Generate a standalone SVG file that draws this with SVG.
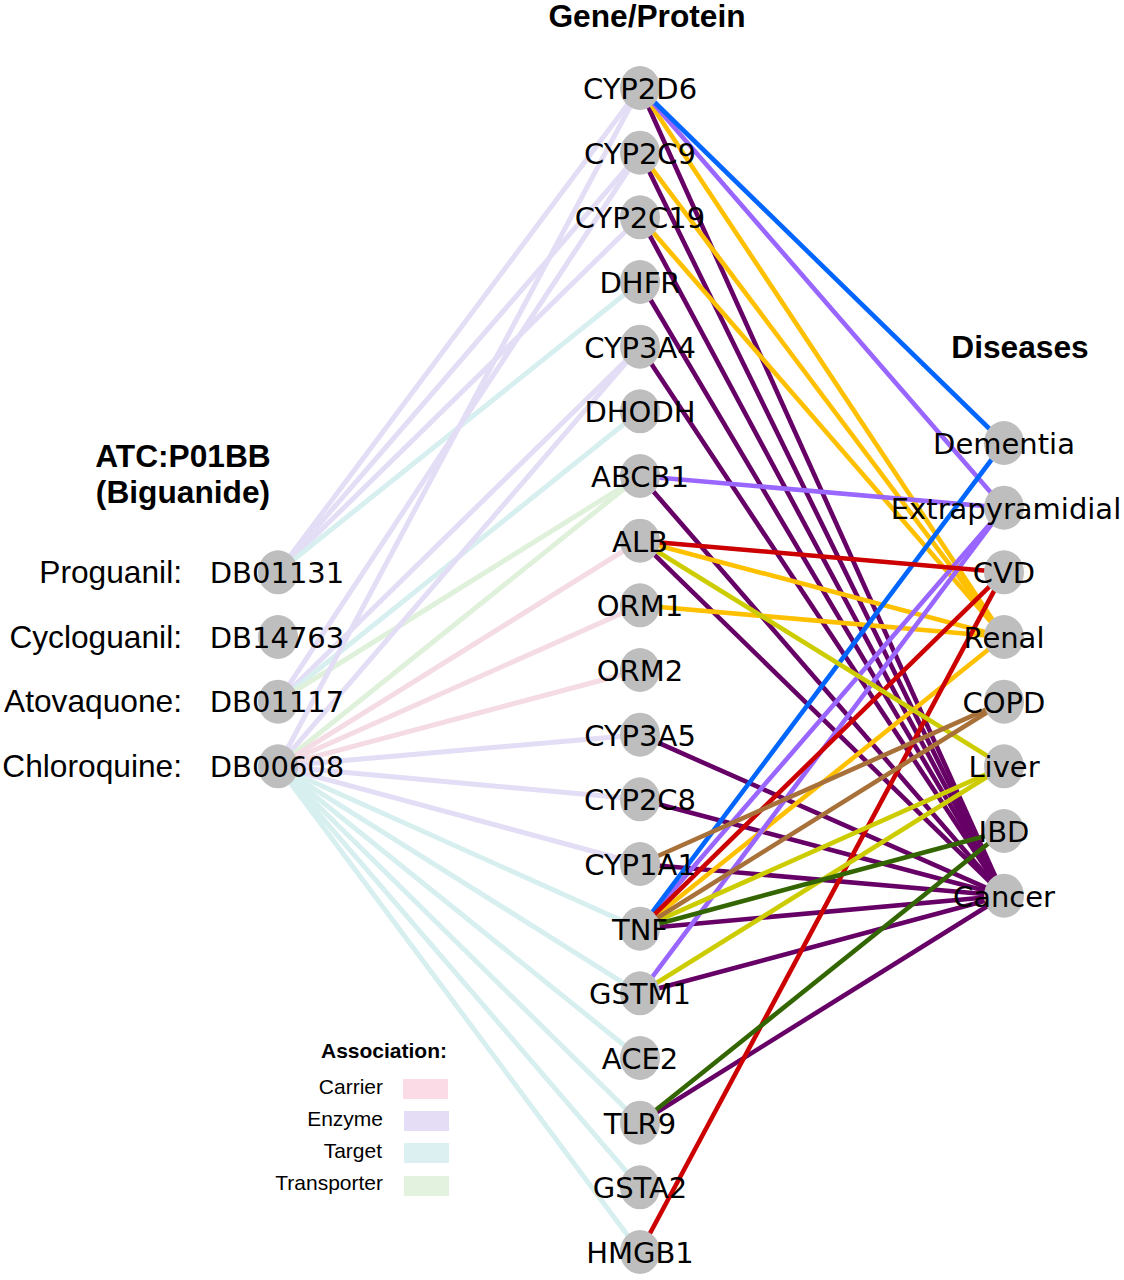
<svg xmlns="http://www.w3.org/2000/svg" width="1124" height="1280" viewBox="0 0 1124 1280">
<style>
.bg{fill:#ffffff}
.n{fill:#bebebe}
.lbl{font-family:"DejaVu Sans",sans-serif;font-size:29px;fill:#000;text-anchor:middle}
.drg{font-family:"Liberation Sans",Arial,sans-serif;font-size:31.7px;fill:#000;text-anchor:end}
.ttl{font-family:"Liberation Sans",Arial,sans-serif;font-size:31.7px;font-weight:bold;fill:#000;text-anchor:middle}
.lg{font-family:"Liberation Sans",Arial,sans-serif;font-size:21px;fill:#000;text-anchor:end}
.lgb{font-family:"Liberation Sans",Arial,sans-serif;font-size:21px;font-weight:bold;fill:#000;text-anchor:end}
.L{stroke-width:5;fill:none}
.R{stroke-width:4.6;fill:none}
.car{stroke:#f4dbe4}
.enz{stroke:#e3ddf5}
.tar{stroke:#d8eff0}
.tra{stroke:#e0f1db}
.dem{stroke:#0066ff}
.ext{stroke:#9966ff}
.cvd{stroke:#cc0000}
.ren{stroke:#ffc000}
.cop{stroke:#a8713a}
.liv{stroke:#cccc00}
.ibd{stroke:#336600}
.can{stroke:#660066}
</style>
<rect class="bg" x="0" y="0" width="1124" height="1280"/>
<g id="connectors">
<line class="L enz" x1="278" y1="572.3" x2="640" y2="88"/>
<line class="L enz" x1="278" y1="572.3" x2="640" y2="152.7"/>
<line class="L enz" x1="278" y1="572.3" x2="640" y2="217.3"/>
<line class="L tar" x1="278" y1="572.3" x2="640" y2="282"/>
<line class="L enz" x1="278" y1="701.7" x2="640" y2="152.7"/>
<line class="L enz" x1="278" y1="701.7" x2="640" y2="346.7"/>
<line class="L tar" x1="278" y1="701.7" x2="640" y2="411.3"/>
<line class="L tra" x1="278" y1="701.7" x2="640" y2="476"/>
<line class="L enz" x1="278" y1="766.3" x2="640" y2="88"/>
<line class="L enz" x1="278" y1="766.3" x2="640" y2="346.7"/>
<line class="L tra" x1="278" y1="766.3" x2="640" y2="476"/>
<line class="L car" x1="278" y1="766.3" x2="640" y2="540.7"/>
<line class="L car" x1="278" y1="766.3" x2="640" y2="605.3"/>
<line class="L car" x1="278" y1="766.3" x2="640" y2="670"/>
<line class="L enz" x1="278" y1="766.3" x2="640" y2="734.7"/>
<line class="L enz" x1="278" y1="766.3" x2="640" y2="799.3"/>
<line class="L enz" x1="278" y1="766.3" x2="640" y2="864"/>
<line class="L tar" x1="278" y1="766.3" x2="640" y2="928.7"/>
<line class="L tar" x1="278" y1="766.3" x2="640" y2="993.3"/>
<line class="L tar" x1="278" y1="766.3" x2="640" y2="1058"/>
<line class="L tar" x1="278" y1="766.3" x2="640" y2="1122.7"/>
<line class="L tar" x1="278" y1="766.3" x2="640" y2="1187.3"/>
<line class="L tar" x1="278" y1="766.3" x2="640" y2="1252"/>
<line class="R can" x1="640" y1="88" x2="1004" y2="895.7"/>
<line class="R can" x1="640" y1="152.7" x2="1004" y2="895.7"/>
<line class="R can" x1="640" y1="217.3" x2="1004" y2="895.7"/>
<line class="R can" x1="640" y1="282" x2="1004" y2="895.7"/>
<line class="R can" x1="640" y1="346.7" x2="1004" y2="895.7"/>
<line class="R can" x1="640" y1="476" x2="1004" y2="895.7"/>
<line class="R can" x1="640" y1="540.7" x2="1004" y2="895.7"/>
<line class="R can" x1="640" y1="734.7" x2="1004" y2="895.7"/>
<line class="R can" x1="640" y1="799.3" x2="1004" y2="895.7"/>
<line class="R can" x1="640" y1="864" x2="1004" y2="895.7"/>
<line class="R can" x1="640" y1="928.7" x2="1004" y2="895.7"/>
<line class="R can" x1="640" y1="993.3" x2="1004" y2="895.7"/>
<line class="R can" x1="640" y1="1122.7" x2="1004" y2="895.7"/>
<line class="R ren" x1="640" y1="88" x2="1004" y2="637"/>
<line class="R ren" x1="640" y1="152.7" x2="1004" y2="637"/>
<line class="R ren" x1="640" y1="217.3" x2="1004" y2="637"/>
<line class="R ren" x1="640" y1="540.7" x2="1004" y2="637"/>
<line class="R ren" x1="640" y1="605.3" x2="1004" y2="637"/>
<line class="R ren" x1="640" y1="928.7" x2="1004" y2="637"/>
<line class="R ext" x1="640" y1="88" x2="1004" y2="507.7"/>
<line class="R ext" x1="640" y1="476" x2="1004" y2="507.7"/>
<line class="R ext" x1="640" y1="928.7" x2="1004" y2="507.7"/>
<line class="R ext" x1="640" y1="993.3" x2="1004" y2="507.7"/>
<line class="R dem" x1="640" y1="88" x2="1004" y2="443"/>
<line class="R dem" x1="640" y1="928.7" x2="1004" y2="443"/>
<line class="R cvd" x1="640" y1="540.7" x2="1004" y2="572.3"/>
<line class="R cvd" x1="640" y1="928.7" x2="1004" y2="572.3"/>
<line class="R cvd" x1="640" y1="1252" x2="1004" y2="572.3"/>
<line class="R liv" x1="640" y1="540.7" x2="1004" y2="766.3"/>
<line class="R liv" x1="640" y1="928.7" x2="1004" y2="766.3"/>
<line class="R liv" x1="640" y1="993.3" x2="1004" y2="766.3"/>
<line class="R cop" x1="640" y1="864" x2="1004" y2="701.7"/>
<line class="R cop" x1="640" y1="928.7" x2="1004" y2="701.7"/>
<line class="R ibd" x1="640" y1="928.7" x2="1004" y2="831"/>
<line class="R ibd" x1="640" y1="1122.7" x2="1004" y2="831"/>
</g>
<g id="drug-DB01131"><ellipse class="n" cx="278" cy="572.3" rx="20" ry="22"/><text class="drg" x="182" y="583">Proguanil:</text><text class="lbl" x="277" y="583">DB01131</text></g>
<g id="drug-DB14763"><ellipse class="n" cx="278" cy="637" rx="20" ry="22"/><text class="drg" x="182" y="648">Cycloguanil:</text><text class="lbl" x="277" y="648">DB14763</text></g>
<g id="drug-DB01117"><ellipse class="n" cx="278" cy="701.7" rx="20" ry="22"/><text class="drg" x="182" y="712">Atovaquone:</text><text class="lbl" x="277" y="712">DB01117</text></g>
<g id="drug-DB00608"><ellipse class="n" cx="278" cy="766.3" rx="20" ry="22"/><text class="drg" x="182" y="777">Chloroquine:</text><text class="lbl" x="277" y="777">DB00608</text></g>
<g id="gene-CYP2D6"><ellipse class="n" cx="640" cy="88" rx="20" ry="22"/><text class="lbl" x="640" y="99">CYP2D6</text></g>
<g id="gene-CYP2C9"><ellipse class="n" cx="640" cy="152.7" rx="20" ry="22"/><text class="lbl" x="640" y="163.5">CYP2C9</text></g>
<g id="gene-CYP2C19"><ellipse class="n" cx="640" cy="217.3" rx="20" ry="22"/><text class="lbl" x="640" y="228">CYP2C19</text></g>
<g id="gene-DHFR"><ellipse class="n" cx="640" cy="282" rx="20" ry="22"/><text class="lbl" x="640" y="293">DHFR</text></g>
<g id="gene-CYP3A4"><ellipse class="n" cx="640" cy="346.7" rx="20" ry="22"/><text class="lbl" x="640" y="357.5">CYP3A4</text></g>
<g id="gene-DHODH"><ellipse class="n" cx="640" cy="411.3" rx="20" ry="22"/><text class="lbl" x="640" y="422">DHODH</text></g>
<g id="gene-ABCB1"><ellipse class="n" cx="640" cy="476" rx="20" ry="22"/><text class="lbl" x="640" y="487">ABCB1</text></g>
<g id="gene-ALB"><ellipse class="n" cx="640" cy="540.7" rx="20" ry="22"/><text class="lbl" x="640" y="551.5">ALB</text></g>
<g id="gene-ORM1"><ellipse class="n" cx="640" cy="605.3" rx="20" ry="22"/><text class="lbl" x="640" y="616">ORM1</text></g>
<g id="gene-ORM2"><ellipse class="n" cx="640" cy="670" rx="20" ry="22"/><text class="lbl" x="640" y="681">ORM2</text></g>
<g id="gene-CYP3A5"><ellipse class="n" cx="640" cy="734.7" rx="20" ry="22"/><text class="lbl" x="640" y="745.5">CYP3A5</text></g>
<g id="gene-CYP2C8"><ellipse class="n" cx="640" cy="799.3" rx="20" ry="22"/><text class="lbl" x="640" y="810">CYP2C8</text></g>
<g id="gene-CYP1A1"><ellipse class="n" cx="640" cy="864" rx="20" ry="22"/><text class="lbl" x="640" y="875">CYP1A1</text></g>
<g id="gene-TNF"><ellipse class="n" cx="640" cy="928.7" rx="20" ry="22"/><text class="lbl" x="640" y="939.5">TNF</text></g>
<g id="gene-GSTM1"><ellipse class="n" cx="640" cy="993.3" rx="20" ry="22"/><text class="lbl" x="640" y="1004">GSTM1</text></g>
<g id="gene-ACE2"><ellipse class="n" cx="640" cy="1058" rx="20" ry="22"/><text class="lbl" x="640" y="1069">ACE2</text></g>
<g id="gene-TLR9"><ellipse class="n" cx="640" cy="1122.7" rx="20" ry="22"/><text class="lbl" x="640" y="1133.5">TLR9</text></g>
<g id="gene-GSTA2"><ellipse class="n" cx="640" cy="1187.3" rx="20" ry="22"/><text class="lbl" x="640" y="1198">GSTA2</text></g>
<g id="gene-HMGB1"><ellipse class="n" cx="640" cy="1252" rx="20" ry="22"/><text class="lbl" x="640" y="1263">HMGB1</text></g>
<g id="dis-Dementia"><ellipse class="n" cx="1004" cy="443" rx="20" ry="22"/><text class="lbl" x="1004" y="454">Dementia</text></g>
<g id="dis-Extrapyramidial"><ellipse class="n" cx="1004" cy="507.7" rx="20" ry="22"/><text class="lbl" x="1006" y="518.5">Extrapyramidial</text></g>
<g id="dis-CVD"><ellipse class="n" cx="1004" cy="572.3" rx="20" ry="22"/><text class="lbl" x="1004" y="583">CVD</text></g>
<g id="dis-Renal"><ellipse class="n" cx="1004" cy="637" rx="20" ry="22"/><text class="lbl" x="1004" y="648">Renal</text></g>
<g id="dis-COPD"><ellipse class="n" cx="1004" cy="701.7" rx="20" ry="22"/><text class="lbl" x="1004" y="712.5">COPD</text></g>
<g id="dis-Liver"><ellipse class="n" cx="1004" cy="766.3" rx="20" ry="22"/><text class="lbl" x="1004" y="777">Liver</text></g>
<g id="dis-IBD"><ellipse class="n" cx="1004" cy="831" rx="20" ry="22"/><text class="lbl" x="1004" y="842">IBD</text></g>
<g id="dis-Cancer"><ellipse class="n" cx="1004" cy="895.7" rx="20" ry="22"/><text class="lbl" x="1004" y="906.5">Cancer</text></g>
<g id="titles">
<text class="ttl" x="647" y="27">Gene/Protein</text>
<text class="ttl" x="1020" y="358">Diseases</text>
<text class="ttl" x="183" y="467">ATC:P01BB</text>
<text class="ttl" x="183" y="503">(Biguanide)</text>
</g>
<g id="legend">
<text class="lgb" x="447" y="1058">Association:</text>
<text class="lg" x="383" y="1094">Carrier</text>
<rect x="403" y="1079" width="45" height="20" fill="#fadbe6"/>
<text class="lg" x="383" y="1126">Enzyme</text>
<rect x="404" y="1111" width="45" height="20" fill="#e5dcf5"/>
<text class="lg" x="382" y="1158">Target</text>
<rect x="404" y="1143" width="45" height="20" fill="#dcf0f2"/>
<text class="lg" x="383" y="1190">Transporter</text>
<rect x="404" y="1176" width="45" height="20" fill="#e3f2de"/>
</g>
</svg>
